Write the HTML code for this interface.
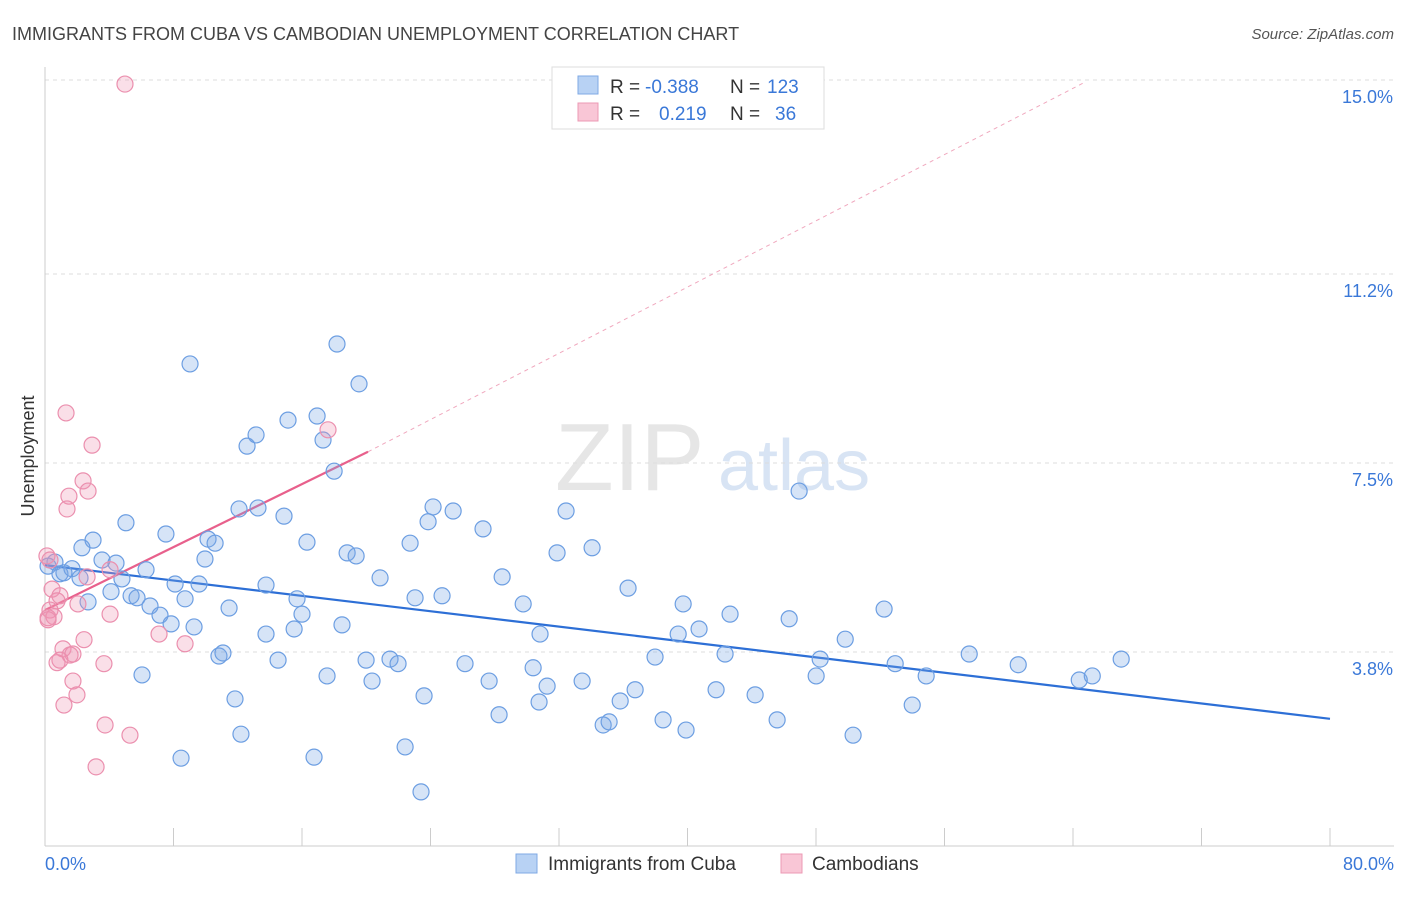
<!DOCTYPE html>
<html><head><meta charset="utf-8"><style>
body{margin:0;background:#fff;font-family:"Liberation Sans",sans-serif;}
svg text{font-family:"Liberation Sans",sans-serif;}
</style></head><body>
<svg id="chart" width="1406" height="892" viewBox="0 0 1406 892" xmlns="http://www.w3.org/2000/svg">
<text x="12" y="40" font-size="18" fill="#444">IMMIGRANTS FROM CUBA VS CAMBODIAN UNEMPLOYMENT CORRELATION CHART</text>
<text x="1394" y="39" font-size="15" fill="#555" text-anchor="end" font-style="italic">Source: ZipAtlas.com</text>
<g>
<text x="555" y="490" font-size="96" fill="#e6e6e6" font-family="Liberation Serif">ZIP</text>
<text x="718" y="490" font-size="72" fill="#d8e4f4">atlas</text>
</g>
<g id="grid"></g>
<g id="axes"></g>
<g id="trend"></g>
<g id="pts"></g>
<text transform="translate(34,456) rotate(-90)" font-size="18" fill="#333" text-anchor="middle">Unemployment</text>
<g>
<rect x="552" y="67" width="272" height="62" fill="#fff" stroke="#ddd"/>
<rect x="578" y="76" width="20" height="18" fill="#b8d2f4" stroke="#7fa9e4"/>
<rect x="578" y="103" width="20" height="18" fill="#f9c6d6" stroke="#ec9ab4"/>
<text x="610" y="93" font-size="19" fill="#333">R = </text><text x="645" y="93" font-size="19" fill="#3a78d8">-0.388</text>
<text x="730" y="93" font-size="19" fill="#333">N = </text><text x="767" y="93" font-size="19" fill="#3a78d8">123</text>
<text x="610" y="120" font-size="19" fill="#333">R = </text><text x="659" y="120" font-size="19" fill="#3a78d8">0.219</text>
<text x="730" y="120" font-size="19" fill="#333">N = </text><text x="775" y="120" font-size="19" fill="#3a78d8">36</text>
</g>
<g>
<rect x="516" y="854" width="21" height="19" fill="#b8d2f4" stroke="#7fa9e4"/>
<text x="548" y="870" font-size="19" fill="#333">Immigrants from Cuba</text>
<rect x="781" y="854" width="21" height="19" fill="#f9c6d6" stroke="#ec9ab4"/>
<text x="812" y="870" font-size="19" fill="#333">Cambodians</text>
</g>
</svg>
<script>
const yTicks=[15.0,11.2,7.5,3.8];
const yTickLabels=["15.0%","11.2%","7.5%","3.8%"];
const xEndLabels=["0.0%","80.0%"];
const cubaX=[9.03,18.18,19.55,15.13,16.94,13.14,12.58,17.31,18.0,46.95,5.04,7.53,12.08,13.26,14.88,24.16,25.41,23.85,27.27,32.44,2.99,2.30,10.15,10.59,16.31,22.73,31.88,34.06,18.81,19.37,3.55,4.42,6.29,9.96,0.62,0.19,0.93,1.68,1.18,2.18,4.79,8.10,9.59,13.76,20.86,28.46,36.30,4.11,5.36,5.73,8.72,15.69,23.04,24.72,29.77,39.73,52.24,2.68,6.54,7.16,11.46,16.0,42.65,46.33,7.85,9.28,18.49,13.76,15.51,30.82,39.42,40.72,49.82,10.83,11.08,14.51,19.99,21.48,21.98,26.15,30.39,37.98,42.34,48.26,57.54,52.93,60.59,67.0,6.04,17.56,20.36,27.65,33.44,31.26,48.01,54.86,64.39,65.2,11.83,23.6,36.74,35.81,41.78,44.21,30.76,28.27,38.48,34.75,35.12,45.58,53.99,39.91,12.2,50.31,8.47,16.75,22.42,23.41];
const cubaY=[9.44,9.83,9.05,8.34,8.42,8.05,7.83,7.95,7.34,6.95,6.33,6.11,6.60,6.62,6.46,6.64,6.56,6.35,6.21,6.56,5.99,5.84,6.01,5.93,5.95,5.93,5.74,5.84,5.74,5.68,5.60,5.54,5.41,5.62,5.56,5.48,5.33,5.43,5.35,5.25,5.23,5.13,5.13,5.11,5.25,5.27,5.05,4.98,4.90,4.86,4.84,4.84,4.86,4.90,4.74,4.74,4.64,4.78,4.70,4.52,4.66,4.54,4.54,4.45,4.35,4.29,4.33,4.15,4.25,4.15,4.15,4.25,4.05,3.72,3.78,3.64,3.64,3.66,3.57,3.57,3.49,3.70,3.76,3.66,3.76,3.57,3.55,3.66,3.35,3.33,3.23,3.23,3.23,3.13,3.33,3.33,3.25,3.33,2.88,2.94,3.06,2.84,3.06,2.96,2.82,2.57,2.47,2.37,2.43,2.47,2.76,2.27,2.19,2.17,1.72,1.74,1.94,1.06];
const cambX=[4.98,1.31,2.93,17.62,2.37,1.49,2.68,1.37,0.12,0.31,0.44,2.62,4.05,0.93,0.75,2.05,0.31,0.56,0.19,4.05,2.43,7.10,8.72,1.12,1.56,1.74,0.93,0.75,3.67,1.74,1.99,1.18,3.74,5.29,3.18,0.19];
const cambY=[14.92,8.48,7.85,8.15,7.15,6.85,6.95,6.60,5.68,5.60,5.03,5.27,5.41,4.90,4.80,4.74,4.62,4.49,4.47,4.54,4.04,4.15,3.96,3.86,3.74,3.76,3.64,3.59,3.57,3.23,2.96,2.76,2.37,2.17,1.55,4.43];
const cubaTrend=[[0,5.50],[80,2.49]];
const cambTrendSolid=[[0,4.62],[20.11,7.72]];
const cambTrendDash=[[20.11,7.72],[64.76,14.96]];

const NS="http://www.w3.org/2000/svg";
const X0=45,X1=1330,YT=80,YB=846;
function xs(v){return X0+v/80*(X1-X0);}
function ys(v){return YB-v/15*(YB-YT);}
function mk(tag,attrs,parent){const e=document.createElementNS(NS,tag);for(const k in attrs)e.setAttribute(k,attrs[k]);parent.appendChild(e);return e;}
const grid=document.getElementById('grid'),axes=document.getElementById('axes'),trend=document.getElementById('trend'),pts=document.getElementById('pts');
yTicks.forEach((t,i)=>{
  const l=mk('line',{x1:X0,x2:1394,y1:ys(t),y2:ys(t),stroke:'#ddd','stroke-dasharray':'4,4'},grid);
  
  
  const tx=mk('text',{x:1393,y:ys(t)+23,'font-size':18,fill:'#3a78d8','text-anchor':'end'},grid);
  tx.textContent=yTickLabels[i];
  
  
});
mk('line',{x1:X0,x2:X0,y1:67,y2:YB,stroke:'#ccc'},axes);
mk('line',{x1:X0,x2:1394,y1:YB,y2:YB,stroke:'#ccc'},axes);
for(let i=0;i<=10;i++){const l=mk('line',{x1:xs(i*8),x2:xs(i*8),y1:828,y2:YB,stroke:'#ccc'},axes);
  
  }
const xl0=mk('text',{x:45,y:870,'font-size':18,fill:'#3a78d8'},axes);xl0.textContent=xEndLabels[0];


const xl1=mk('text',{x:1394,y:870,'font-size':18,fill:'#3a78d8','text-anchor':'end'},axes);xl1.textContent=xEndLabels[1];


cubaX.forEach((x,i)=>{const c=mk('circle',{cx:xs(x),cy:ys(cubaY[i]),r:8,fill:'rgba(120,165,230,0.3)',stroke:'#6c9ee2','stroke-width':1.2},pts);
  
  });
cambX.forEach((x,i)=>{const c=mk('circle',{cx:xs(x),cy:ys(cambY[i]),r:8,fill:'rgba(240,150,180,0.3)',stroke:'#eb8fae','stroke-width':1.2},pts);
  
  });
const t1=mk('line',{x1:xs(cubaTrend[0][0]),y1:ys(cubaTrend[0][1]),x2:xs(cubaTrend[1][0]),y2:ys(cubaTrend[1][1]),stroke:'#2d6fd6','stroke-width':2.2},trend);


const t2=mk('line',{x1:xs(cambTrendSolid[0][0]),y1:ys(cambTrendSolid[0][1]),x2:xs(cambTrendSolid[1][0]),y2:ys(cambTrendSolid[1][1]),stroke:'#e8608c','stroke-width':2.2},trend);


const t3=mk('line',{x1:xs(cambTrendDash[0][0]),y1:ys(cambTrendDash[0][1]),x2:xs(cambTrendDash[1][0]),y2:ys(cambTrendDash[1][1]),stroke:'#f0a8be','stroke-width':1,'stroke-dasharray':'4,4'},trend);


</script>
</body></html>
